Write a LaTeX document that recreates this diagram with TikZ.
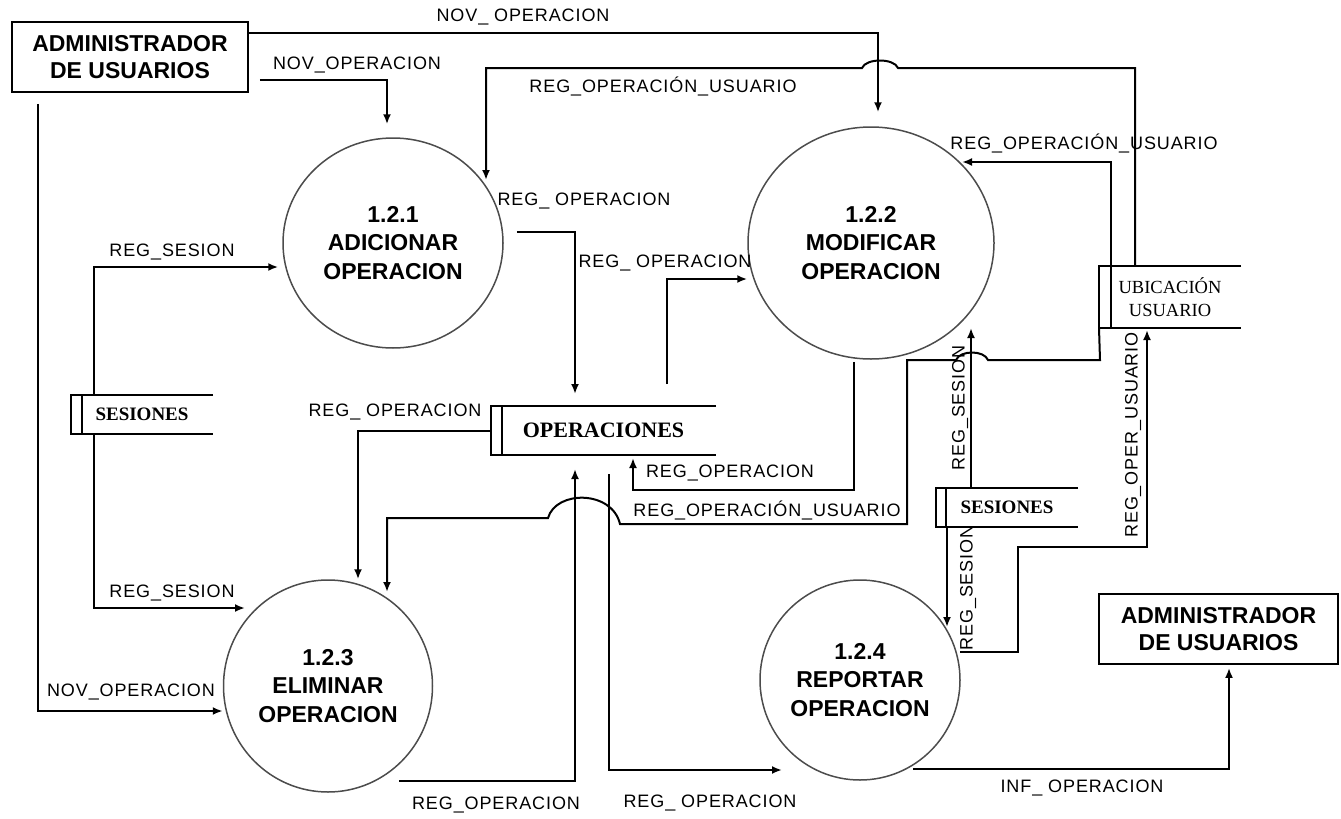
\documentclass[tikz,border=0pt]{standalone}
\usepackage{fontspec}
\setmainfont{Liberation Serif}
\setsansfont{Liberation Sans}
\newfontfamily\lblfont[LetterSpace=5]{Liberation Sans}
\usetikzlibrary{arrows.meta,shapes.geometric}

\newcommand{\dstore}[2]{%
  \draw (#1.north east) -- (#1.north west) -- (#1.south west) -- (#1.south east);
  \draw ([xshift=#2]#1.north west) -- ([xshift=#2]#1.south west);}

\begin{document}
\begin{tikzpicture}[x=1pt,y=-1pt,>={Latex[length=10pt,width=8pt]},line width=2pt,
  pr/.style={draw=black!70,ellipse,line width=1.5pt,inner sep=0pt,align=center,font=\sffamily\bfseries\fontsize{23}{28.5}\selectfont},
  ex/.style={draw,line width=1.8pt,inner sep=0pt,align=center,minimum width=236pt,minimum height=70pt,font=\sffamily\bfseries\fontsize{23}{27}\selectfont},
  st/.style={inner sep=0pt,align=center,minimum width=140pt,minimum height=37pt,font=\bfseries\fontsize{19}{22}\selectfont},
  lb/.style={font=\lblfont\fontsize{18}{20}\selectfont,inner sep=0pt}]
\useasboundingbox (0,0) rectangle (1341,819);
\node[ex] (admA) at (130,57) {ADMINISTRADOR\\DE USUARIOS};
\node[ex,minimum width=239pt] (admB) at (1218.5,629) {ADMINISTRADOR\\DE USUARIOS};
\node[pr,minimum width=220pt,minimum height=210pt] (adic) at (393,243) {1.2.1\\ADICIONAR\\OPERACION};
\node[pr,minimum width=246pt,minimum height=232pt] (modif) at (871,243) {1.2.2\\MODIFICAR\\OPERACION};
\node[pr,minimum width=209pt,minimum height=212pt] (elim) at (328,686) {1.2.3\\ELIMINAR\\OPERACION};
\node[pr,minimum width=200pt,minimum height=200pt] (repor) at (860,680) {1.2.4\\REPORTAR\\OPERACION};
\node[st,minimum width=223pt,minimum height=47pt,font=\bfseries\fontsize{22}{24}\selectfont] (ops) at (603.5,430.5) {OPERACIONES};
\node[st] (sesA) at (142,414.5) {SESIONES};
\node[st] (sesB) at (1007,507.5) {SESIONES};
\node[st,minimum height=60pt,font=\fontsize{18.5}{23}\selectfont] (ubic) at (1170,297) {UBICACIÓN\\USUARIO};
\dstore{ops}{11pt}
\dstore{sesA}{11pt}
\dstore{sesB}{10pt}
\dstore{ubic}{12pt}

\draw[->] ([yshift=24pt]admA.east) -| ([shift={(7,-14)}]modif.north) node[lb] at (523,17) {NOV\_ OPERACION};
\draw[->] ([shift={(11,23)}]admA.east) -| ([shift={(-6,-13)}]adic.north) node[lb] at (357,65) {NOV\_OPERACION};
\draw[->] ([shift={(-92,11)}]admA.south) |- ([shift={(0,25)}]elim.west) node[lb] at (131,692) {NOV\_OPERACION};
\draw[->] ([xshift=-48pt]sesA.north) |- ([shift={(-4,24)}]adic.west) node[lb] at (172,252) {REG\_SESION};
\draw[->] ([xshift=-48pt]sesA.south) |- ([shift={(-83,-78)}]elim.center) node[lb] at (172,593) {REG\_SESION};
\draw[->] ([shift={(13,-11)}]adic.east) -| ([shift={(-28.5,-12)}]ops.north) node[lb] at (584,201) {REG\_ OPERACION};
\draw[->] ([shift={(63.5,-22)}]ops.north) |- ([shift={(0,36)}]modif.west) node[lb] at (665,263) {REG\_ OPERACION};
\draw[->] (ops.west) -| ([shift={(30,0)}]elim.north) node[lb] at (395,412) {REG\_ OPERACION};
\draw[->] ([shift={(71,95)}]elim.center) -| ([shift={(-28.5,14)}]ops.south) node[lb] at (496,805) {REG\_OPERACION};
\draw[->] ([shift={(5.5,19)}]ops.south) |- ([shift={(-78,90)}]repor.center) node[lb] at (710,803) {REG\_ OPERACION};
\draw[->] ([shift={(-17,2)}]modif.south) -- ++(0,128) -| ([shift={(29.5,3)}]ops.south) node[lb] at (730,473) {REG\_OPERACION};
\draw[->] ([xshift=-35pt]ubic.north) -- (1135,68) -- (898,68) .. controls (894,58) and (866,58) .. (862,68) -| ([shift={(93,-63)}]adic.center) node[lb] at (663,86) {REG\_OPERACIÓN\_USUARIO};
\draw[->] ([xshift=12pt]ubic.north west) |- ([shift={(91,-81)}]modif.center) node[lb] at (1084,143) {REG\_OPERACIÓN\_USUARIO};
\draw[->] (ubic.south west) -- (1100,360) -- (988,360) .. controls (984,350) and (960,350) .. (956,360) -- (907,360) -- (907,524) -- (620,524) .. controls (612,490) and (556,490) .. (548,518) -| ([shift={(59,-94)}]elim.center) node[lb] at (767,510) {REG\_OPERACIÓN\_USUARIO};
\draw[->] ([xshift=-36pt]sesB.north) -- ([shift={(100,85)}]modif.center) node[lb,rotate=90] at (960,408) {REG\_SESION};
\draw[->] ([xshift=-60pt]sesB.south) -- ([shift={(87,-53)}]repor.center) node[lb,rotate=90] at (968,588) {REG\_SESION};
\draw[->] ([shift={(100,-28)}]repor.center) -| (1018,547) -| ([shift={(-23,2)}]ubic.south) node[lb,rotate=90] at (1133,435) {REG\_OPER\_USUARIO};
\draw[->] ([shift={(53,89)}]repor.center) -| ([shift={(10.5,3)}]admB.south) node[lb] at (1082,788) {INF\_ OPERACION};
\end{tikzpicture}
\end{document}
